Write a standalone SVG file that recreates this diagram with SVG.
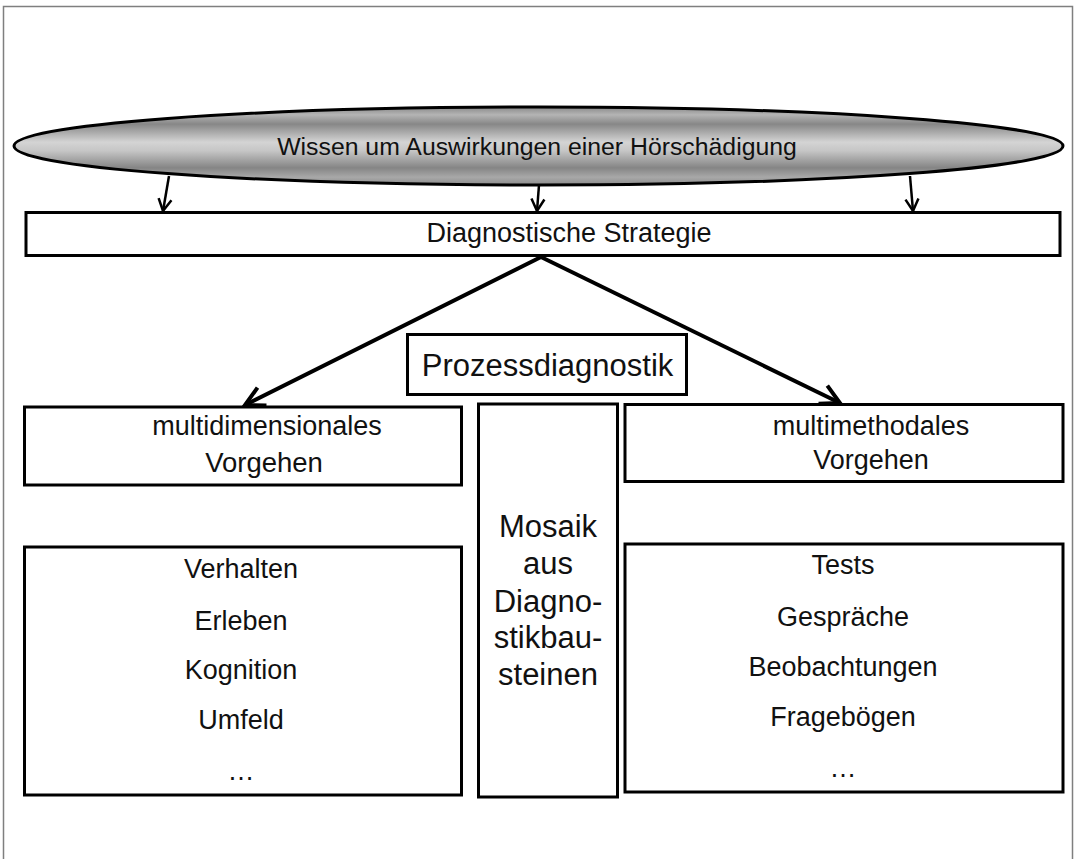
<svg xmlns="http://www.w3.org/2000/svg" width="1079" height="859" viewBox="0 0 1079 859">
<style>
text{font-family:"Liberation Sans",Arial,sans-serif;fill:#111;text-anchor:middle}
.box{fill:#fff;stroke:#000;stroke-width:3}
.thin{stroke:#000;stroke-width:2.5;fill:none}
.thick{stroke:#000;stroke-width:4;fill:none}
</style>
<defs>
<linearGradient id="metal" x1="0" y1="0" x2="0" y2="1">
<stop offset="0" stop-color="#8a8a8a"/>
<stop offset="0.1" stop-color="#b4b4b4"/>
<stop offset="0.22" stop-color="#878787"/>
<stop offset="0.45" stop-color="#d4d4d4"/>
<stop offset="0.56" stop-color="#c6c6c6"/>
<stop offset="0.78" stop-color="#858585"/>
<stop offset="0.9" stop-color="#a8a8a8"/>
<stop offset="1" stop-color="#8c8c8c"/>
</linearGradient>
<marker id="hs" markerUnits="userSpaceOnUse" markerWidth="18" markerHeight="18" viewBox="0 0 18 18" refX="16" refY="9" orient="auto">
<path d="M4,2.5 L16,9 L4,15.5" fill="none" stroke="#000" stroke-width="2.5"/>
</marker>
<marker id="hl" markerUnits="userSpaceOnUse" markerWidth="28" markerHeight="28" viewBox="0 0 28 28" refX="25" refY="14" orient="auto">
<path d="M6,4 L25,14 L6,24" fill="none" stroke="#000" stroke-width="4"/>
</marker>
</defs>
<rect x="3.5" y="6.5" width="1069" height="900" fill="#fff" stroke="#7f7f7f" stroke-width="1.5"/>

<g id="connectors">
<line class="thin" x1="169" y1="176" x2="163" y2="211" marker-end="url(#hs)"/>
<line class="thin" x1="539" y1="185" x2="537" y2="211" marker-end="url(#hs)"/>
<line class="thin" x1="910" y1="176" x2="913" y2="211" marker-end="url(#hs)"/>
<line class="thick" x1="541" y1="257" x2="245" y2="405" marker-end="url(#hl)"/>
<line class="thick" x1="541" y1="257" x2="840" y2="403" marker-end="url(#hl)"/>
</g>

<g id="wissen">
<ellipse cx="538.5" cy="146" rx="524.5" ry="39" fill="url(#metal)" stroke="#000" stroke-width="3"/>
<text x="537" y="155" font-size="24.8">Wissen um Auswirkungen einer Hörschädigung</text>
</g>

<g id="strategie">
<rect class="box" x="26" y="212.5" width="1034" height="43"/>
<text x="569" y="242" font-size="27">Diagnostische Strategie</text>
</g>

<g id="prozess">
<rect class="box" x="407.5" y="334.5" width="279" height="60"/>
<text x="547.5" y="376" font-size="31">Prozessdiagnostik</text>
</g>

<g id="multidim">
<rect class="box" x="24.5" y="407" width="437" height="78"/>
<text x="267" y="435" font-size="27">multidimensionales</text>
<text x="264" y="472" font-size="27.5">Vorgehen</text>
</g>

<g id="mosaik">
<rect class="box" x="478.5" y="404" width="139" height="393"/>
<text x="548" y="537" font-size="31">Mosaik</text>
<text x="548" y="574" font-size="31">aus</text>
<text x="548" y="612" font-size="31">Diagno-</text>
<text x="548" y="648" font-size="31">stikbau-</text>
<text x="548" y="685" font-size="31">steinen</text>
</g>

<g id="multimeth">
<rect class="box" x="625" y="404.5" width="438" height="77"/>
<text x="871" y="435" font-size="27">multimethodales</text>
<text x="871" y="469" font-size="27">Vorgehen</text>
</g>

<g id="dimensionen">
<rect class="box" x="24.5" y="547" width="437" height="248"/>
<text x="241" y="578" font-size="27">Verhalten</text>
<text x="241" y="630" font-size="27">Erleben</text>
<text x="241" y="679" font-size="27">Kognition</text>
<text x="241" y="729" font-size="27">Umfeld</text>
<text x="241" y="780" font-size="27">…</text>
</g>

<g id="methoden">
<rect class="box" x="625" y="544" width="438" height="248"/>
<text x="843" y="574" font-size="27">Tests</text>
<text x="843" y="626" font-size="27">Gespräche</text>
<text x="843" y="676" font-size="27">Beobachtungen</text>
<text x="843" y="726" font-size="27">Fragebögen</text>
<text x="843" y="777" font-size="27">…</text>
</g>
</svg>
